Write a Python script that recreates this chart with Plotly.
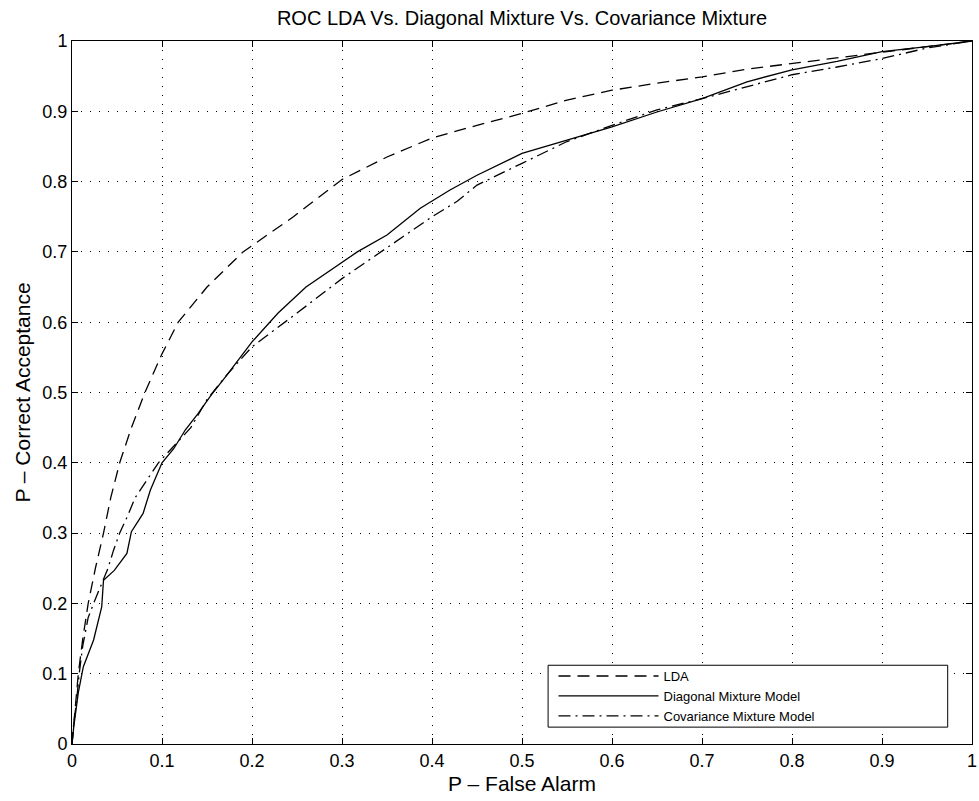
import plotly.graph_objects as go

# ---- data ----
lda_x = [0, 0.002, 0.004, 0.007, 0.012, 0.018, 0.026, 0.035, 0.043, 0.053, 0.066, 0.081,
         0.1, 0.118, 0.15, 0.19, 0.246, 0.3, 0.35, 0.4, 0.45, 0.5, 0.55, 0.6, 0.65, 0.7,
         0.75, 0.8, 0.85, 0.9, 0.95, 1.0]
lda_y = [0, 0.03, 0.06, 0.1, 0.15, 0.2, 0.25, 0.3, 0.35, 0.4, 0.45, 0.5,
         0.555, 0.6, 0.65, 0.7, 0.75, 0.803, 0.835, 0.862, 0.88, 0.897, 0.916, 0.93, 0.94, 0.949,
         0.96, 0.968, 0.977, 0.985, 0.993, 1.0]

diag_x = [0, 0.002, 0.007, 0.0126, 0.024, 0.033, 0.035, 0.047, 0.061, 0.066, 0.079, 0.087,
          0.1, 0.113, 0.126, 0.14, 0.155, 0.171, 0.2, 0.229, 0.26, 0.3, 0.317,
          0.35, 0.387, 0.42, 0.45, 0.5, 0.55, 0.6, 0.65, 0.7, 0.75, 0.8, 0.85, 0.9, 0.95, 1.0]
diag_y = [0, 0.025, 0.073, 0.11, 0.148, 0.195, 0.233, 0.247, 0.271, 0.302, 0.328, 0.361,
          0.4, 0.42, 0.447, 0.47, 0.497, 0.523, 0.572, 0.613, 0.65, 0.686, 0.7,
          0.724, 0.762, 0.788, 0.809, 0.84, 0.859, 0.878, 0.899, 0.918, 0.942, 0.959, 0.971, 0.985, 0.992, 1.0]

cov_x = [0, 0.002, 0.005, 0.008, 0.012, 0.018, 0.024, 0.032, 0.04, 0.046, 0.053, 0.062,
         0.07, 0.083, 0.096, 0.114, 0.132, 0.15, 0.172, 0.2, 0.215, 0.25, 0.3, 0.35, 0.4,
         0.428, 0.45, 0.5, 0.55, 0.6, 0.65, 0.7, 0.75, 0.8, 0.85, 0.9, 0.95, 1.0]
cov_y = [0, 0.03, 0.06, 0.1, 0.14, 0.18, 0.2, 0.225, 0.25, 0.275, 0.3, 0.325,
         0.35, 0.375, 0.4, 0.425, 0.45, 0.49, 0.525, 0.565, 0.579, 0.613, 0.662, 0.706, 0.75,
         0.772, 0.795, 0.826, 0.857, 0.88, 0.902, 0.918, 0.935, 0.952, 0.963, 0.975, 0.99, 1.0]

series_names = ["LDA", "Diagonal Mixture Model", "Covariance Mixture Model"]
tick_vals = [0, 0.1, 0.2, 0.3, 0.4, 0.5, 0.6, 0.7, 0.8, 0.9, 1]
tick_text = ["0", "0.1", "0.2", "0.3", "0.4", "0.5", "0.6", "0.7", "0.8", "0.9", "1"]

FONT = "Liberation Sans, Arial, Helvetica, sans-serif"

fig = go.Figure()
fig.add_trace(go.Scatter(x=lda_x, y=lda_y, mode="lines", name=series_names[0],
                         line=dict(color="black", width=1.3, dash="12px,7px")))
fig.add_trace(go.Scatter(x=diag_x, y=diag_y, mode="lines", name=series_names[1],
                         line=dict(color="black", width=1.3)))
fig.add_trace(go.Scatter(x=cov_x, y=cov_y, mode="lines", name=series_names[2],
                         line=dict(color="black", width=1.3, dash="12px,5px,2px,5px")))

axis_common = dict(
    range=[0, 1], tickvals=tick_vals, ticktext=tick_text, automargin=False,
    showline=True, linecolor="black", linewidth=1, mirror="ticks",
    ticks="inside", ticklen=6, tickcolor="black", tickwidth=1,
    showgrid=True, gridcolor="black", gridwidth=1, griddash="1px,8px",
    zeroline=False, tickfont=dict(size=18, color="black", family=FONT),
)

fig.update_layout(
    width=979, height=801,
    margin=dict(l=72, r=7, t=41, b=57, autoexpand=False),
    paper_bgcolor="white", plot_bgcolor="white",
    font=dict(family=FONT, color="black"),
    title=dict(text="ROC LDA Vs. Diagonal Mixture Vs. Covariance Mixture",
               x=0.5, xref="paper", xanchor="center",
               y=1 - 18 / 801, yref="container", yanchor="middle",
               font=dict(size=20, color="black", family=FONT)),
    xaxis=dict(axis_common, title=dict(text="P – False Alarm", standoff=6,
                                       font=dict(size=21, family=FONT))),
    yaxis=dict(axis_common, title=dict(text="P – Correct Acceptance", standoff=6,
                                       font=dict(size=21, family=FONT))),
    showlegend=True,
    legend=dict(x=0.535, xanchor="left", y=0.118, yanchor="top",
                bgcolor="rgba(0,0,0,0)", borderwidth=0,
                itemwidth=100, tracegroupgap=0,
                font=dict(size=13, color="black", family=FONT)),
    shapes=[dict(type="rect", xref="paper", yref="paper",
                 x0=0.529, x1=0.973, y0=0.024, y1=0.112,
                 line=dict(color="black", width=1), fillcolor="white", layer="above")],
)

fig.write_html("out.html", config={"displayModeBar": False},
               post_script="document.body.style.margin='0';")
